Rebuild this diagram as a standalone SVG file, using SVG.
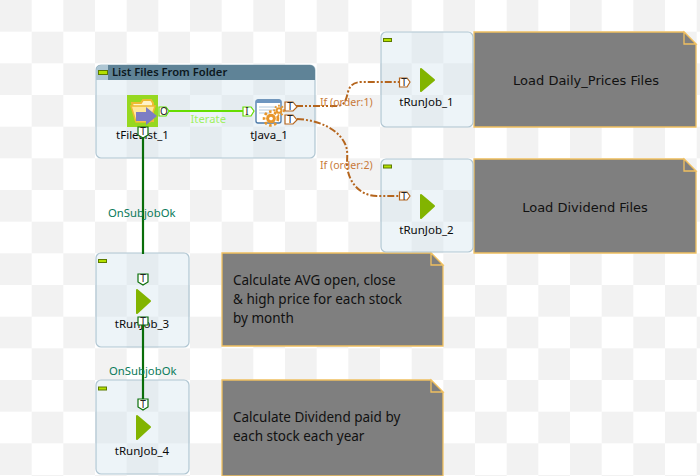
<svg xmlns="http://www.w3.org/2000/svg" width="700" height="476" viewBox="0 0 700 476">
<style>
.lbl{font-family:"Noto Sans","DejaVu Sans",sans-serif;font-size:11.500px;fill:#0a0a0a}
.note{fill:#7f7f7f;stroke:#f0c060;stroke-width:1.3}
.fold{fill:#7f7f7f;stroke:#f0c060;stroke-width:1.3}
.nt{font-family:"DejaVu Sans",sans-serif;font-size:13px;fill:#111}
.ns{font-family:"Noto Sans",sans-serif;font-size:13.500px;fill:#111}
.comp{fill:#d0e2ed;fill-opacity:.38;stroke:#b0c6d2;stroke-width:1.2}
.min{fill:#b4e000;stroke:#5c7a00;stroke-width:1}
.run{fill:#82b400;stroke:#82b400;stroke-width:2;stroke-linejoin:round}
.pt{fill:#fff;stroke:#b5651d;stroke-width:1.2}
.pg{fill:#fff;stroke:#0a6e0a;stroke-width:1.2}
.pl{fill:#fff;stroke:#66dd00;stroke-width:1.2}
.pttx{font-family:"Noto Sans",sans-serif;font-size:10px;fill:#222;text-anchor:middle}
.if{fill:none;stroke:#b5651d;stroke-width:2;stroke-dasharray:7 2 2 2 2 2}
.ok{fill:none;stroke:#0a6e0a;stroke-width:2.2}
.it{fill:none;stroke:#66dd00;stroke-width:2.2}
.cl{font-family:"Noto Sans",sans-serif;font-size:11.300px}
</style>
<defs>
<pattern id="chk" width="63.333" height="63.333" patternUnits="userSpaceOnUse">
<rect width="63.333" height="63.333" fill="#fff"/>
<rect width="31.667" height="31.667" fill="#f2f2f2"/>
<rect x="31.667" y="31.667" width="31.667" height="31.667" fill="#f2f2f2"/>
</pattern>
<g id="gear"><circle r="4.200" fill="#e8962a"/><circle r="6" fill="none" stroke="#e8962a" stroke-width="2.400" stroke-dasharray="2.200 2.200"/><circle r="1.600" fill="#fff"/></g>
</defs>
<rect id="bg" width="700" height="476" fill="url(#chk)"/>

<g id="note1"><path class="note" d="M474 32H684L696 44V127H474Z"/><path class="fold" d="M684 32V44H696Z"/><text class="nt" x="586" y="85" text-anchor="middle">Load Daily_Prices Files</text></g>
<g id="note2"><path class="note" d="M474 159H684L696 171V253H474Z"/><path class="fold" d="M684 159V171H696Z"/><text class="nt" x="585" y="212" text-anchor="middle">Load Dividend Files</text></g>
<g id="note3"><path class="note" d="M222 253H431L443 265V346H222Z"/><path class="fold" d="M431 253V265H443Z"/><text class="ns" x="233" y="285">Calculate AVG open, close</text><text class="ns" x="233" y="304">&amp; high price for each stock</text><text class="ns" x="233" y="323">by month</text></g>
<g id="note4"><path class="note" d="M222 380H431L443 392V476H222Z"/><path class="fold" d="M431 380V392H443Z"/><text class="ns" x="233" y="422">Calculate Dividend paid by</text><text class="ns" x="233" y="441">each stock each year</text></g>

<g id="subjob1"><rect class="comp" x="96" y="65" width="219" height="93" rx="5"/><path d="M96 70a5 5 0 0 1 5-5H310a5 5 0 0 1 5 5V80H96Z" fill="#5f8397"/><path d="M96 70a5 5 0 0 1 5-5H108V80H96Z" fill="#aec6d3"/><rect class="min" x="98.500" y="70.500" width="9" height="4"/><text x="112" y="76" font-family="'Noto Sans',sans-serif" font-size="11.200" font-weight="600" fill="#0c1820">List Files From Folder</text></g>
<g id="tRunJob_1"><rect class="comp" x="381" y="32" width="92" height="95" rx="5"/><rect class="min" x="383.500" y="38.500" width="8" height="3"/><path class="run" d="M421 69L434 80L421 91Z"/><text class="lbl" x="426.500" y="106" text-anchor="middle">tRunJob_1</text></g>
<g id="tRunJob_2"><rect class="comp" x="381" y="159" width="92" height="93" rx="5"/><rect class="min" x="383.500" y="165" width="8" height="3"/><path class="run" d="M421 195L434 206L421 218Z"/><text class="lbl" x="426.500" y="234" text-anchor="middle">tRunJob_2</text></g>
<g id="tRunJob_3"><rect class="comp" x="96" y="253" width="93" height="94" rx="5"/><rect class="min" x="98.500" y="259.500" width="8" height="3"/><path class="run" d="M137 290L150 301L137 313Z"/><text class="lbl" x="142" y="328" text-anchor="middle">tRunJob_3</text></g>
<g id="tRunJob_4"><rect class="comp" x="96" y="380" width="93" height="94" rx="5"/><rect class="min" x="98.500" y="387" width="8" height="3"/><path class="run" d="M137 416L150 427L137 439Z"/><text class="lbl" x="142" y="455" text-anchor="middle">tRunJob_4</text></g>

<g id="tFileList_1"><rect x="127" y="95" width="31" height="32" fill="#96d820"/><path d="M132 103H141L143 100H151L153 103V121H136Z" fill="#fff3c8" stroke="#eebb33" stroke-width="2"/><path d="M131 106H155L150 122H136Z" fill="#ffe79a" stroke="#eebb33" stroke-width="1.500"/><path d="M136 112H146V107L157 116L146 125V121H136Z" fill="#7d7dc4"/><text class="lbl" x="142.500" y="139" text-anchor="middle">tFileList_1</text></g>
<g id="tJava_1"><rect x="256" y="100" width="25" height="23" rx="2" fill="#fff" stroke="#4a78a8" stroke-width="1.300"/><rect x="256" y="100" width="25" height="3" fill="#6e96c0"/><path d="M259 107H277M259 110H277M259 113H270" stroke="#b4cbe0" stroke-width="1"/><use href="#gear" transform="translate(271 118.500) scale(1.150)"/><use href="#gear" transform="translate(279 110.500) scale(.8)"/><text class="lbl" x="269" y="139" text-anchor="middle">tJava_1</text></g>

<g id="connectors">
<path class="it" d="M169 111H243"/>
<path class="ok" d="M143 135V254"/>
<path class="ok" d="M143 325V400"/>
<path class="if" d="M296 106H336C345 106 346 100 348 92C350 85 354 82 362 82H400"/>
<path class="if" d="M297 119C320 120 340 130 346 146C348 152 347 158 347 165C348 182 360 196 377 196H400"/>
<text class="cl" x="190.500" y="123" fill="#a0f060">Iterate</text>
<text class="cl" x="320" y="106" font-size="11" fill="#c87a3a" style="font-size:10.600px">If (order:1)</text>
<text class="cl" x="320" y="169" fill="#c87a3a" style="font-size:10.600px">If (order:2)</text>
<text class="cl" x="108" y="217" fill="#0a7a5a">OnSubjobOk</text>
<text class="cl" x="109" y="375" fill="#0a7a5a">OnSubjobOk</text>
</g>
<g id="ports">
<path class="pl" d="M159 107H166L169 111L166 116H159Z"/><text class="pttx" x="164" y="115">O</text>
<path class="pl" d="M243 107H251L254 111L251 116H243Z"/><text class="pttx" x="247" y="115">I</text>
<path class="pt" d="M285 102H293L297 107L293 111H285Z"/><text class="pttx" x="290" y="110">T</text>
<path class="pt" d="M285 115H293L297 120L293 124H285Z"/><text class="pttx" x="290" y="123">T</text>
<path class="pt" d="M399.500 78H407L410 82L407 87H399.500Z"/><text class="pttx" x="404" y="86">T</text>
<path class="pt" d="M399.500 192H407L410 196L407 200H399.500Z"/><text class="pttx" x="404" y="200">T</text>
<path class="pg" d="M138 127H148V135L143 138L138 135Z"/><text class="pttx" x="143" y="135">T</text>
<path class="pg" d="M138 274H148V282L143 285L138 282Z"/><text class="pttx" x="143" y="282">T</text>
<path class="pg" d="M138 317H148V325H138Z" stroke="#fff"/><text class="pttx" x="143" y="325">T</text>
<path class="pg" d="M138 399H148V407L143 410L138 407Z"/><text class="pttx" x="143" y="408">T</text>
</g>
</svg>
